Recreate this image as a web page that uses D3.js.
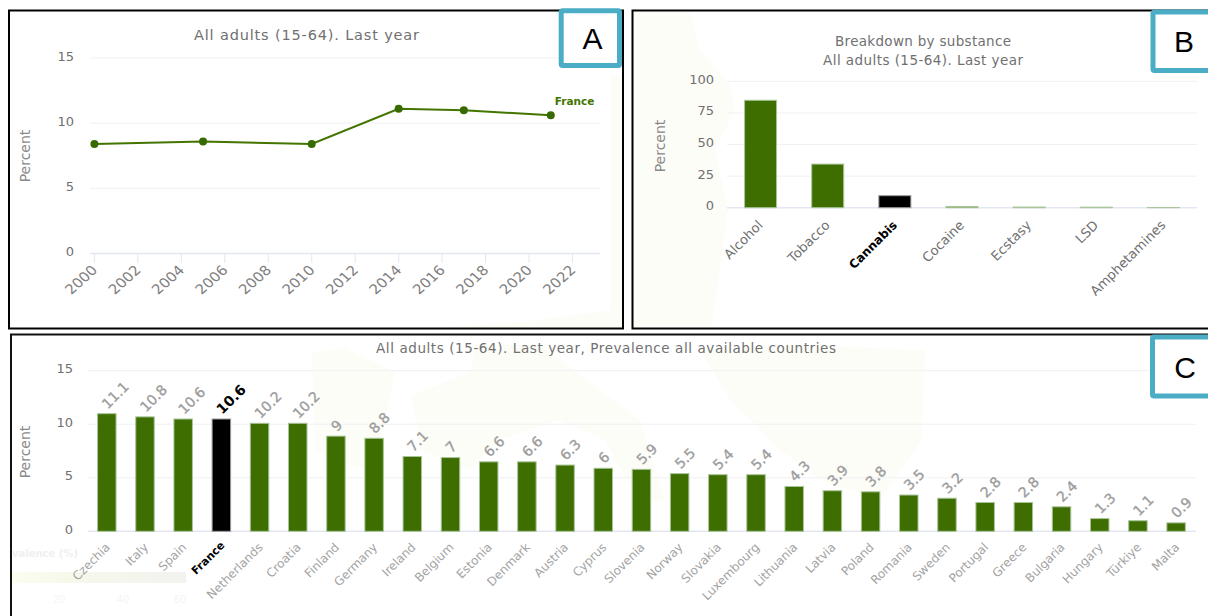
<!DOCTYPE html>
<html><head><meta charset="utf-8">
<script src="https://cdnjs.cloudflare.com/ajax/libs/d3/7.8.5/d3.min.js"></script>
<style>html,body{margin:0;padding:0;background:#fff;overflow:hidden}svg{display:block}text{font-family:"DejaVu Sans",sans-serif}</style>
</head><body><svg id="c" width="1208" height="616"></svg>
<script>
const trendYears=[2000,2005,2010,2014,2017,2021];
const trendValues=[8.4,8.6,8.4,11.1,11.0,10.6];
const yearTicks=[2000,2002,2004,2006,2008,2010,2012,2014,2016,2018,2020,2022];
const percentTicksA=[0,5,10,15];
const substances=["Alcohol","Tobacco","Cannabis","Cocaine","Ecstasy","LSD","Amphetamines"];
const substanceValues=[85,34.5,9.5,1,0.5,0.4,0.1];
const percentTicksB=[0,25,50,75,100];
const countries=["Czechia","Italy","Spain","France","Netherlands","Croatia","Finland","Germany","Ireland","Belgium","Estonia","Denmark","Austria","Cyprus","Slovenia","Norway","Slovakia","Luxembourg","Lithuania","Latvia","Poland","Romania","Sweden","Portugal","Greece","Bulgaria","Hungary","Türkiye","Malta"];
const countryValues=[11.1,10.8,10.6,10.6,10.2,10.2,9,8.8,7.1,7,6.6,6.6,6.3,6,5.9,5.5,5.4,5.4,4.3,3.9,3.8,3.5,3.2,2.8,2.8,2.4,1.3,1.1,0.9];
const GREEN="#3f6e00",LINE="#437500",GRID="#f0f0f3",AXIS="#e3e7f3",TXT="#707070",SOFT="#a3a3a3";
const svg=d3.select("#c");
svg.append("rect").attr("width",1208).attr("height",616).attr("fill","#fff");
const bg=svg.append("g").attr("fill","#fdfdf8");
[ "M632,12L690,12L700,50L730,85L735,110L715,150L728,210L712,326L632,326Z",
  "M312,352L345,348L395,372L380,445L365,470L315,450Z",
  "M412,395L470,372L475,345L540,345L640,420L665,500L640,505L605,440L560,420L500,440L470,470L420,450Z",
  "M700,350L800,345L925,350L922,440L880,500L820,480L780,450L730,400Z",
  "M442,328L623,328L623,75L611,75L611,310L520,322Z"
].forEach(d=>bg.append("path").attr("d",d));
// faded legend remnant
const defs=svg.append("defs");
const lg=defs.append("linearGradient").attr("id","lg");
lg.append("stop").attr("offset","0").attr("stop-color","#fbfdf0");
lg.append("stop").attr("offset","0.35").attr("stop-color","#f6f8ea");
lg.append("stop").attr("offset","1").attr("stop-color","#f2f2ef");
const leg=svg.append("g");
leg.append("rect").attr("x",11).attr("y",572).attr("width",175).attr("height",11).attr("fill","url(#lg)");
leg.append("text").attr("x",12).attr("y",557).attr("font-size",10).attr("font-weight","bold").attr("fill","#f0f0f0").text("valence (%)");
[["20",59],["40",123],["60",180]].forEach(([t,x])=>leg.append("text").attr("x",x).attr("y",603).attr("font-size",10).attr("text-anchor","middle").attr("fill","#f5f5f5").text(t));

function yAxisLabels(g,y,ticks,x,dy){
  ticks.forEach(t=>g.append("text").attr("x",x).attr("y",y(t)+dy).attr("text-anchor","end").attr("font-size",13).attr("fill",TXT).text(t));
}
function grid(g,y,ticks,x0,x1){
  ticks.forEach(t=>g.append("line").attr("x1",x0).attr("x2",x1).attr("y1",y(t)).attr("y2",y(t)).attr("stroke",t===0?AXIS:GRID).attr("stroke-width",t===0?1.5:1));
}
function rotated(g,x,y,t,opts={}){
  return g.append("text").attr("transform",`translate(${x},${y}) scale(${opts.sx||1},1) rotate(-45)`).attr("text-anchor",opts.anchor||"end")
    .attr("font-size",opts.size||12).attr("font-weight",opts.bold?"bold":null).attr("fill",opts.fill||TXT).text(t);
}
function yTitle(g,x,y){
  g.append("text").attr("transform",`translate(${x},${y}) rotate(-90)`).attr("text-anchor","middle").attr("font-size",14).attr("fill","#8a8a8a").text("Percent");
}
function title(g,x,y,t,len,size){
  g.append("text").attr("x",x).attr("y",y).attr("text-anchor","middle").attr("font-size",size).attr("fill",TXT)
   .attr("textLength",len).attr("lengthAdjust","spacing").text(t);
}
// A
{
  const g=svg.append("g");
  const x=d3.scaleLinear().domain([2000,2022]).range([94.4,572.5]);
  const y=d3.scaleLinear().domain([0,15]).range([253.5,58]);
  grid(g,y,percentTicksA,90,600);
  yearTicks.forEach(t=>{g.append("line").attr("x1",x(t)).attr("x2",x(t)).attr("y1",254).attr("y2",263).attr("stroke",AXIS);
    rotated(g,x(t)+4,271,t,{size:13.5,sx:1.12,fill:"#808080"});});
  yAxisLabels(g,y,percentTicksA,74,2.5);
  yTitle(g,30,156);
  title(g,306.5,40,"All adults (15-64). Last year",225,14.5);
  const pts=trendYears.map((d,i)=>[x(d),y(trendValues[i])]);
  g.append("path").attr("d",d3.line()(pts)).attr("fill","none").attr("stroke",LINE).attr("stroke-width",2);
  g.selectAll("circle").data(pts).join("circle").attr("cx",d=>d[0]).attr("cy",d=>d[1]).attr("r",4).attr("fill","#376a00");
  g.append("text").attr("x",574.5).attr("y",105).attr("text-anchor","middle").attr("font-size",10.5).attr("font-weight","bold").attr("fill",LINE).text("France");
}
// B
{
  const g=svg.append("g");
  const x=d3.scaleBand().domain(substances).range([727,1197]);
  const y=d3.scaleLinear().domain([0,100]).range([207.7,81.3]);
  grid(g,y,percentTicksB,727,1197);
  yAxisLabels(g,y,percentTicksB,714,2.5);
  yTitle(g,665,146);
  title(g,923,46,"Breakdown by substance",176,13.5);
  title(g,923,65,"All adults (15-64). Last year",200,13.5);
  const w=32;
  substances.forEach((s,i)=>{
    const v=substanceValues[i],top=y(v),can=s==="Cannabis";
    g.append("rect").attr("x",x(s)+x.bandwidth()/2-w/2).attr("y",top).attr("width",w).attr("height",y(0)-top)
      .attr("fill",can?"#000":GREEN).attr("stroke",can?"#9a9a9a":"#a9c59a").attr("stroke-width",1);
    rotated(g,x(s)+x.bandwidth()/2+3,226,s,{size:can?12:13.2,bold:can,fill:can?"#000":TXT});
  });
}
// C
{
  const g=svg.append("g");
  const x=d3.scaleBand().domain(countries).range([87.7,1195.2]);
  const y=d3.scaleLinear().domain([0,15]).range([531.3,370.7]);
  grid(g,y,percentTicksA,88,1196);
  yAxisLabels(g,y,percentTicksA,73,2.5);
  yTitle(g,30,452);
  title(g,606,353,"All adults (15-64). Last year, Prevalence all available countries",460,13.5);
  const w=18.5;
  countries.forEach((s,i)=>{
    const v=countryValues[i],top=y(v)+1.2,cx=x(s)+x.bandwidth()/2,fr=s==="France";
    g.append("rect").attr("x",cx-w/2).attr("y",top).attr("width",w).attr("height",y(0)-top)
      .attr("fill",fr?"#000":GREEN).attr("stroke",fr?"#9a9a9a":"#a9c59a").attr("stroke-width",1);
    rotated(g,cx+4,fr?546:548,s,{size:fr?11:12,bold:fr,fill:fr?"#000":SOFT});
    rotated(g,cx+1,top-4,v,{size:14,anchor:"start",bold:fr,fill:fr?"#000":"#9c9c9c"}).attr("stroke",fr?"none":"#9c9c9c").attr("stroke-width",0.35);
  });
}
// panels
const frames=[[9,10.5,614,318,2,"#000"],[632.5,10.5,600,318,2,"#000"],[11,334.5,1220,300,2,"#111"]];
frames.forEach(f=>svg.append("rect").attr("x",f[0]).attr("y",f[1]).attr("width",f[2]).attr("height",f[3]).attr("fill","none").attr("stroke",f[5]).attr("stroke-width",f[4]));
const boxes=[["A",561.2,10.8,58.3,54.7,592.5],["B",1153,12,80,58.5,1184],["C",1152.5,337,80,59,1185]];
boxes.forEach(b=>{
  svg.append("rect").attr("x",b[1]).attr("y",b[2]).attr("width",b[3]).attr("height",b[4]).attr("rx",1.5).attr("fill","#fff").attr("stroke","#4bacc6").attr("stroke-width",5);
  svg.append("text").attr("x",b[5]).attr("y",b[2]+b[4]/2+11).attr("text-anchor","middle").attr("font-size",30).attr("fill","#000").style("font-family","'Liberation Sans',Arial,sans-serif").text(b[0]);
});
</script></body></html>
